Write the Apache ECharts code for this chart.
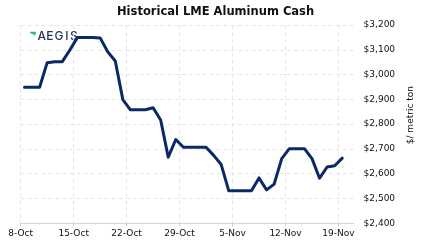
<!DOCTYPE html>
<html>
<head>
<meta charset="utf-8">
<script src="https://cdn.jsdelivr.net/npm/echarts@6/dist/echarts.min.js"></script>
<style>
html,body{margin:0;padding:0;background:#fff;}
#c{width:423px;height:251px;}
</style>
</head>
<body>
<div id="c"></div>
<script>
// Daily dates (weekend values carried forward), 8-Oct .. 19-Nov
const dates = [
 '8-Oct','9-Oct','10-Oct','11-Oct','12-Oct','13-Oct','14-Oct',
 '15-Oct','16-Oct','17-Oct','18-Oct','19-Oct','20-Oct','21-Oct',
 '22-Oct','23-Oct','24-Oct','25-Oct','26-Oct','27-Oct','28-Oct',
 '29-Oct','30-Oct','31-Oct','1-Nov','2-Nov','3-Nov','4-Nov',
 '5-Nov','6-Nov','7-Nov','8-Nov','9-Nov','10-Nov','11-Nov',
 '12-Nov','13-Nov','14-Nov','15-Nov','16-Nov','17-Nov','18-Nov',
 '19-Nov'
];
const cashPrice = [
 2949,2949,2949,3048,3052,3052,3099,
 3150,3150,3150,3148,3092,3055,2899,
 2858,2858,2858,2866,2817,2667,2738,
 2707,2707,2707,2707,2674,2637,2531,
 2531,2531,2531,2583,2535,2558,2661,
 2701,2701,2701,2661,2582,2627,2632,
 2663
];
const tickLabels = ['8-Oct','15-Oct','22-Oct','29-Oct','5-Nov','12-Nov','19-Nov'];
const axisDays = 44; // axis spans 8-Oct .. 21-Nov
const yMin = 2400, yMax = 3200, yStep = 100;
const logoLetters = ['A','E','G','I','S'];

const chart = echarts.init(document.getElementById('c'), null, {renderer:'canvas'});
const seriesData = cashPrice.map((v,i)=>[i + 0.5, v]); // each day's value sits mid-day
const gridColor = '#e6e6e6';
const letterX = [37.5, 46.3, 54.6, 65.3, 70];
const logo = logoLetters.map((ch,i)=>({
  type:'text', z:0, left:letterX[i], top:30.5,
  style:{text:ch, font:'500 12px Inter', fill:'#26355a'}
}));
chart.setOption({
  animation:false,
  backgroundColor:'#fff',
  title:{
    text:'Historical LME Aluminum Cash',
    left:117, top:6, padding:0,
    textStyle:{fontFamily:'DejaVu Sans', fontWeight:'bold', fontSize:11.5, color:'#111'}
  },
  graphic:[
    {type:'polygon', z:0, shape:{points:[[30,31.7],[36,31.7],[35.2,36],[33.4,34.2],[30.6,33.6]]}, style:{fill:'#1fc28e'}}
  ].concat(logo),
  grid:{left:20.7, right:63, top:25, bottom:27.7, containLabel:false},
  xAxis:{
    type:'value', min:0, max:axisDays, interval:7,
    axisLine:{show:true, lineStyle:{color:'#d4d4d4', width:1}},
    axisTick:{show:true, length:3, lineStyle:{color:'#cfcfcf'}},
    axisLabel:{
      showMaxLabel:false,
      margin:6,
      fontFamily:'DejaVu Sans', fontSize:9, color:'#111',
      formatter:(v)=> (v % 7 === 0 && tickLabels[v/7] !== undefined) ? tickLabels[v/7] : ''
    },
    splitLine:{show:true, showMaxLine:false, lineStyle:{color:gridColor, type:[4,3], width:1}}
  },
  yAxis:{
    type:'value', position:'right', min:yMin, max:yMax, interval:yStep,
    name:'$/ metric ton', nameLocation:'middle', nameRotate:90, nameGap:52,
    nameTextStyle:{fontFamily:'DejaVu Sans', fontSize:9, color:'#111', padding:[0,0,0,18]},
    axisLine:{show:false}, axisTick:{show:false},
    axisLabel:{margin:10, fontFamily:'DejaVu Sans', fontSize:9, color:'#111',
      formatter:(v)=>'$' + v.toLocaleString('en-US')},
    splitLine:{show:true, showMinLine:false, lineStyle:{color:gridColor, type:[4,3], width:1}}
  },
  series:[{
    type:'line', data:seriesData, showSymbol:false, symbol:'none', z:5,
    lineStyle:{color:'#0b2966', width:3, join:'round', cap:'round'}
  }]
});
</script>
</body>
</html>
